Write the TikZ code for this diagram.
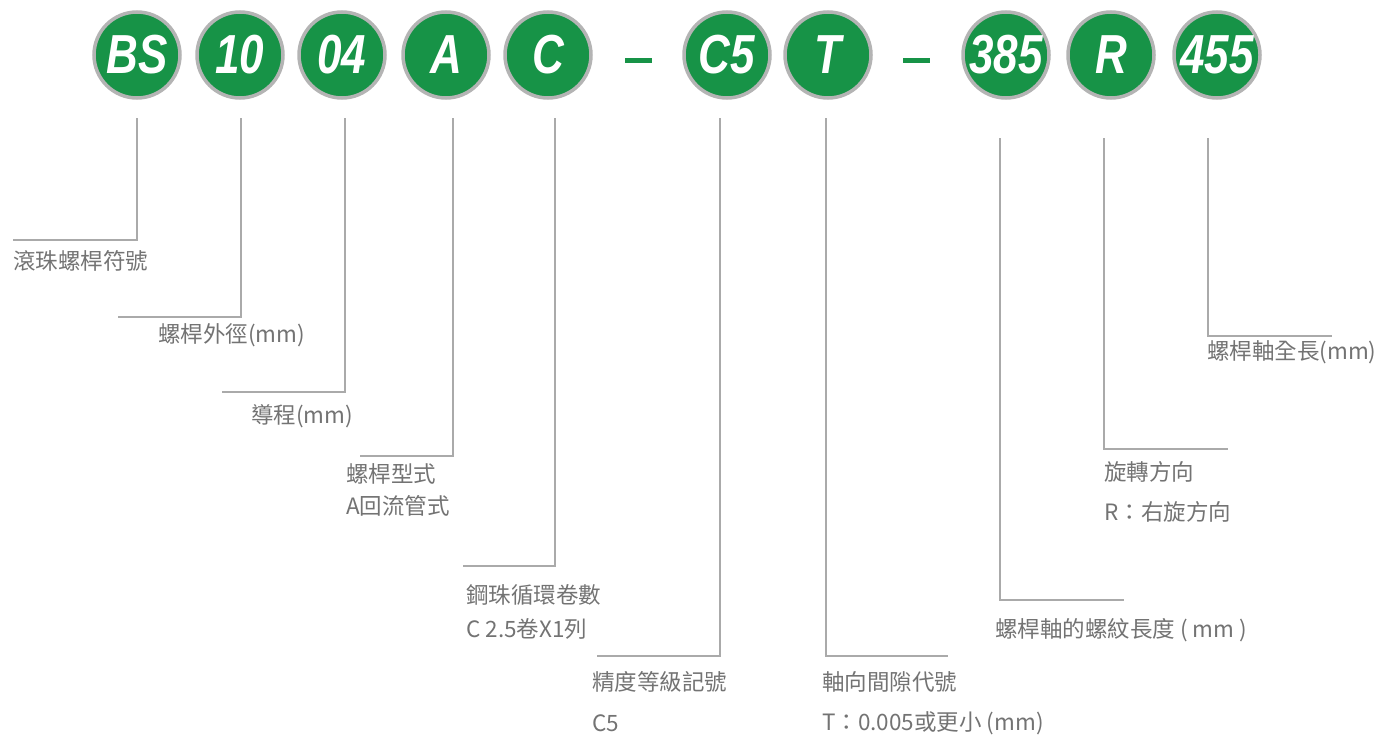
\documentclass[tikz,border=0pt]{standalone}
\usepackage{fontspec}
\setmainfont{Noto Sans CJK TC}
\newfontfamily\circfont{Liberation Sans}
\definecolor{cgreen}{HTML}{179347}
\definecolor{cring}{HTML}{B4B4B4}
\definecolor{lgray}{HTML}{AAAAAA}
\definecolor{tgray}{HTML}{737373}
\tikzset{
  code/.style={circle, draw=cring, line width=3.5pt, fill=cgreen, minimum size=86pt, inner sep=0pt,
    text=white, font=\circfont\bfseries\itshape\fontsize{55}{55}\selectfont},
  dashbar/.style={rectangle, fill=cgreen, minimum width=27pt, minimum height=5pt, inner sep=0pt},
  lead/.style={draw=lgray, line width=1.1pt},
  lbl/.style={anchor=west, inner sep=0pt, text=tgray, font=\fontsize{22.5}{26}\selectfont},
}
\newcommand{\sq}[1]{\scalebox{0.8}[1]{#1}}
\begin{document}
\begin{tikzpicture}[x=1pt,y=-1pt]
\useasboundingbox (0,0) rectangle (1376,736);
% code circles
\node[code] (cBS) at (137,55) {\sq{BS}};
\node[code] (c10) at (240,55) {\sq{10}};
\node[code] (c04) at (342,55) {\sq{04}};
\node[code] (cA) at (446,55) {\sq{A}};
\node[code] (cC) at (548,55) {\sq{C}};
\node[dashbar] (d1) at (638,60) {};
\node[code] (cC5) at (727,55) {\sq{C5}};
\node[code] (cT) at (828,55) {\sq{T}};
\node[dashbar] (d2) at (916,60) {};
\node[code] (c385) at (1006,55) {\sq{385}};
\node[code] (cR) at (1111,55) {\sq{R}};
\node[code] (c455) at (1217,55) {\sq{455}};
% labels
\node[lbl] (lBS) at (13,261) {滾珠螺桿符號};
\node[lbl] (l10) at (158,335) {螺桿外徑(mm)};
\node[lbl] (l04) at (251,416) {導程(mm)};
\node[lbl] (lA1) at (346,474) {螺桿型式};
\node[lbl] (lA2) at (346,506) {A回流管式};
\node[lbl] (lC1) at (466,595) {鋼珠循環卷數};
\node[lbl] (lC2) at (466,629) {C 2.5卷X1列};
\node[lbl] (lC51) at (592,682) {精度等級記號};
\node[lbl] (lC52) at (592,723) {C5};
\node[lbl] (lT1) at (822,682) {軸向間隙代號};
\node[lbl] (lT2) at (822,723) {T：0.005或更小 (mm)};
\node[lbl] (l385) at (995,630) {螺桿軸的螺紋長度 ( mm )};
\node[lbl] (lR1) at (1104,472) {旋轉方向};
\node[lbl] (lR2) at (1104,512) {R：右旋方向};
\node[lbl] (l455) at (1207,352) {螺桿軸全長(mm)};
% leader coordinates
\coordinate (tBS) at (137,118); \coordinate (kBS) at (137,240); \coordinate (eBS) at (13,240);
\coordinate (t10) at (241,118); \coordinate (k10) at (241,317); \coordinate (e10) at (118,317);
\coordinate (t04) at (345,118); \coordinate (k04) at (345,392); \coordinate (e04) at (222,392);
\coordinate (tA) at (453,118); \coordinate (kA) at (453,456); \coordinate (eA) at (360,456);
\coordinate (tC) at (555,118); \coordinate (kC) at (555,566); \coordinate (eC) at (463,566);
\coordinate (tC5) at (720,118); \coordinate (kC5) at (720,656); \coordinate (eC5) at (597,656);
\coordinate (tT) at (826,118); \coordinate (kT) at (826,656); \coordinate (eT) at (948,656);
\coordinate (t385) at (1000,138); \coordinate (k385) at (1000,600); \coordinate (e385) at (1124,600);
\coordinate (tR) at (1104,138); \coordinate (kR) at (1104,449); \coordinate (eR) at (1228,449);
\coordinate (t455) at (1208,138); \coordinate (k455) at (1208,336); \coordinate (e455) at (1332,336);
\foreach \n in {BS,10,04,A,C,C5,T,385,R,455}{
  \draw[lead] (t\n) -- (k\n) -- (e\n);
}
\end{tikzpicture}
\end{document}
